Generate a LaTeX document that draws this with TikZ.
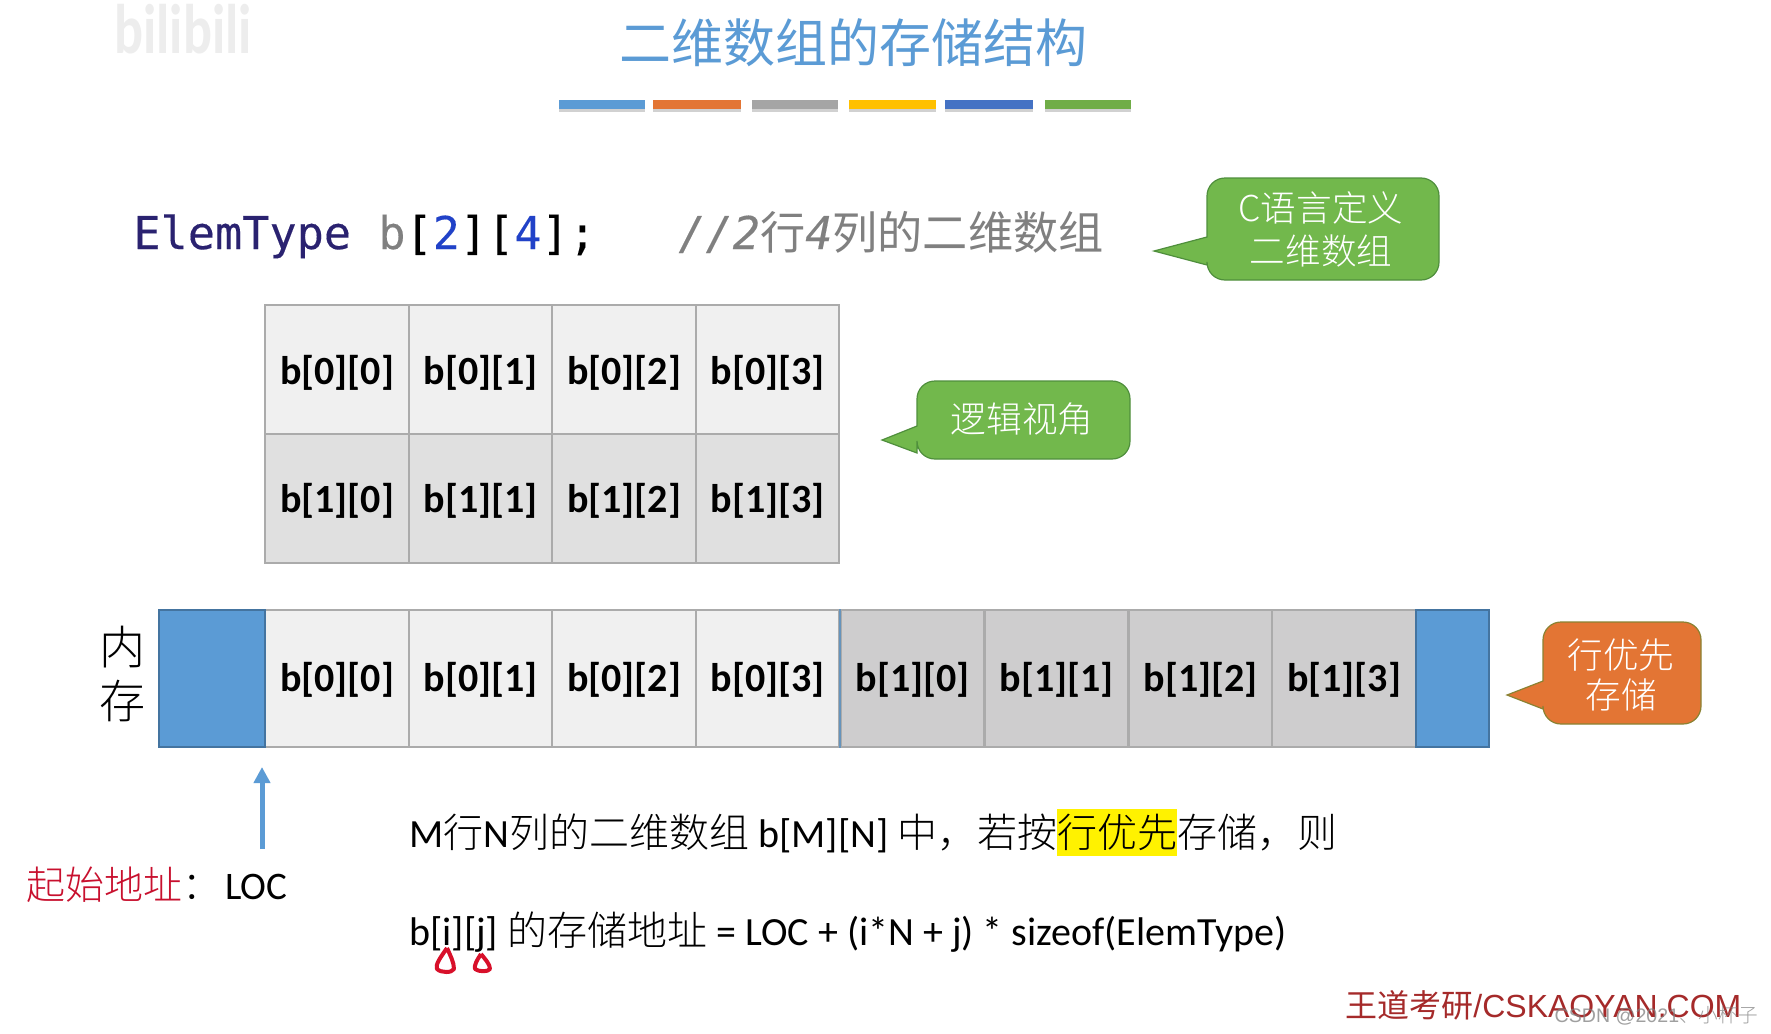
\documentclass[tikz,border=0pt]{standalone}
\usepackage{fontspec}
\setmainfont{Carlito}
\newfontfamily\cjk{Noto Sans CJK SC}
\newfontfamily\cjkl{Noto Sans CJK SC}[UprightFont={* Light}]
\newfontfamily\monof{DejaVu Sans Mono}[FakeBold=0.25]
\newfontfamily\arialf{Liberation Sans}
\usetikzlibrary{arrows.meta}
\definecolor{blueT}{HTML}{5B9BD5}
\definecolor{orangeT}{HTML}{E37534}
\definecolor{grayT}{HTML}{A5A5A5}
\definecolor{yellowT}{HTML}{FFC000}
\definecolor{navyT}{HTML}{4472C4}
\definecolor{greenT}{HTML}{70AD47}
\definecolor{bubbleGreen}{HTML}{72B84C}
\definecolor{bubbleGreenEdge}{HTML}{4F8F3C}
\definecolor{bubbleOrangeEdge}{HTML}{8A8232}
\definecolor{cellEdge}{HTML}{ABABAB}
\definecolor{cellA}{HTML}{F0F0F0}
\definecolor{cellB}{HTML}{E0E0E0}
\definecolor{cellC}{HTML}{CECDCE}
\definecolor{codeNavy}{HTML}{2A2270}
\definecolor{codeBlue}{HTML}{2142C8}
\definecolor{codeGray}{HTML}{808080}
\definecolor{startRed}{HTML}{C8102E}
\definecolor{footRed}{HTML}{A52A2A}
\definecolor{inkRed}{HTML}{D8102A}
\tikzset{
  cellbox/.style={draw=cellEdge,line width=1pt,minimum height=#1,inner sep=0pt,
    font=\fontsize{20}{24}\selectfont\bfseries,text=black,anchor=center},
  calloutgreen/.style={fill=bubbleGreen,draw=bubbleGreenEdge,line width=.6pt},
  calloutorange/.style={fill=orangeT,draw=bubbleOrangeEdge,line width=.6pt},
  calltext/.style={text=white,align=center,inner sep=0pt},
  bodytext/.style={anchor=base west,inner sep=0pt,font=\fontsize{20}{24}\selectfont,text=black},
  tear/.style={draw=inkRed,line width=2pt,line join=round}
}
% x1 y1 x2 y2 tipx tipy b1 b2 style
\newcommand{\bubble}[9]{%
  \path[#9] (#1+18,#2) -- (#3-18,#2) .. controls (#3-8,#2) and (#3,#2+8) .. (#3,#2+18)
    -- (#3,#4-18) .. controls (#3,#4-8) and (#3-8,#4) .. (#3-18,#4)
    -- (#1+18,#4) .. controls (#1+8,#4) and (#1,#4-8) .. (#1,#4-18)
    -- (#1,#8) -- (#5,#6) -- (#1,#7)
    -- (#1,#2+18) .. controls (#1,#2+8) and (#1+8,#2) .. (#1+18,#2) -- cycle;}
\newcommand{\ctext}[1]{{\cjkl #1}}
\begin{document}
\begin{tikzpicture}[x=0.5pt,y=-0.5pt]
\path[fill=white] (0,0) rectangle (1771,1033);
\useasboundingbox (0,0) rectangle (1771,1033);

% watermark
\node[inner sep=0pt,text=black!7,font=\fontsize{27}{30}\selectfont\bfseries] (wm) at (183,29) {\scalebox{1}[1.3]{bilibili}};

% title
\node[inner sep=0pt,text=blueT,font=\fontsize{26}{30}\selectfont\cjk] (title) at (853,43) {二维数组的存储结构};

% colour bars
\foreach \xa/\xb/\c [count=\i] in {559/645/blueT,653/741/orangeT,752/838/grayT,849/936/yellowT,945/1033/navyT,1045/1131/greenT}{
  \fill[black!18] (\xa,103) rectangle (\xb,112);
  \fill[\c] (\xa,99.5) rectangle (\xb,108.5);
}

% code line
\node[anchor=base west,inner sep=0pt,font=\fontsize{22.6}{26}\selectfont\monof] (code) at (133,249)
  {\textcolor{codeNavy}{ElemType} \textcolor{codeGray}{b}[\textcolor{codeBlue}{2}][\textcolor{codeBlue}{4}];};
\node[anchor=base west,inner sep=0pt,text=codeGray,font=\fontsize{22.6}{26}\selectfont\monof\itshape] (comment) at (678,249)
  {//2{\cjk 行}4{\cjk 列的二维数组}};

% callouts
\bubble{1207}{178}{1439}{280}{1154}{251}{237}{265}{calloutgreen}
\node[calltext,font=\fontsize{17.8}{21.5}\selectfont\cjkl] (c1) at (1321,229) {C语言定义\\二维数组};
\bubble{917}{381}{1130}{459}{882}{440}{426}{453}{calloutgreen}
\node[calltext,font=\fontsize{17.8}{21.5}\selectfont\cjkl] (c2) at (1022,419) {逻辑视角};
\bubble{1543}{622}{1701}{724}{1507}{695}{681}{709}{calloutorange}
\node[calltext,font=\fontsize{17.8}{20}\selectfont\cjkl] (c3) at (1621,675) {行优先\\存储};

% logical view grid
\foreach \r/\yc/\col/\th/\td in {0/369/cellA/17.5pt/2.5pt,1/498/cellB/17pt/3pt}{
  \foreach \c/\xc in {0/337,1/480.5,2/624,3/767.5}{
    \node[cellbox=129*0.5pt,minimum width=71.75pt,fill=\col,text height=\th,text depth=\td] (g\r\c) at (\xc,\yc) {b[\r][\c]};
  }
}

% memory strip
\foreach \c/\xc in {0/337,1/480.5,2/624,3/767.5}{
  \node[cellbox=137*0.5pt,minimum width=71.75pt,fill=cellA,text height=16.5pt,text depth=3.5pt] (ma\c) at (\xc,678.5) {b[0][\c]};
}
\foreach \c/\xc in {0/912.5,1/1056.5,2/1200.5,3/1344}{
  \node[cellbox=137*0.5pt,minimum width=71.8pt,fill=cellC,text height=16.5pt,text depth=3.5pt] (mb\c) at (\xc,678.5) {b[1][\c]};
}
\draw[draw=blueT!75!black,line width=.8pt,fill=blueT] (159,610) rectangle (265,747);
\draw[draw=blueT!75!black,line width=.8pt,fill=blueT] (1416,610) rectangle (1489,747);
\draw[blueT!70!gray,line width=1.2pt] (ma3.north east) -- (ma3.south east);

\node[inner sep=0pt,font=\fontsize{23}{26}\selectfont\cjkl] (nei) at (122,647) {内};
\node[inner sep=0pt,font=\fontsize{23}{26}\selectfont\cjkl] (cun) at (122,701) {存};

% start arrow
\coordinate (atail) at (262,849);
\coordinate (ahead) at (262,767);
\draw[blueT,line width=2.5pt,-{Triangle[length=8pt,width=8pt]}] (atail) -- (ahead);
\node[anchor=base west,inner sep=0pt,font=\fontsize{19.5}{24}\selectfont] (start) at (26,899)
  {\textcolor{startRed}{\ctext{起始地址}}\ctext{：}\kern2pt LOC};

% formula
\fill[yellow] (1057,809) rectangle (1177,856);
\node[bodytext] (l1) at (409,847)
  {M\ctext{行}N\ctext{列的二维数组} b[M][N] \ctext{中，若按行优先存储，则}};
\node[bodytext] (l2) at (409,945)
  {b[i][j] \ctext{的存储地址} = LOC + (i*N + j) * sizeof(ElemType)};

% hand marks
\draw[tear] (447,948) .. controls (440,958) and (435,965) .. (437,969) .. controls (441,973) and (452,973) .. (454,969) .. controls (454,962) and (450,955) .. (447,948);
\draw[tear] (481,954) .. controls (477,960) and (474,965) .. (475,969) .. controls (479,972) and (488,972) .. (490,969) .. controls (490,964) and (485,959) .. (481,954);

% footer
\node[anchor=base west,inner sep=0pt,text=footRed,font=\fontsize{16}{20}\selectfont\arialf] (foot) at (1345,1017) {{\cjk 王道考研}/CSKAOYAN.COM};
\node[anchor=base east,inner sep=0pt,text=gray,opacity=.75,font=\fontsize{9.8}{12}\selectfont\arialf] (csdn) at (1758,1022) {CSDN @2021{\cjkl 、小杯子}};
\end{tikzpicture}
\end{document}
